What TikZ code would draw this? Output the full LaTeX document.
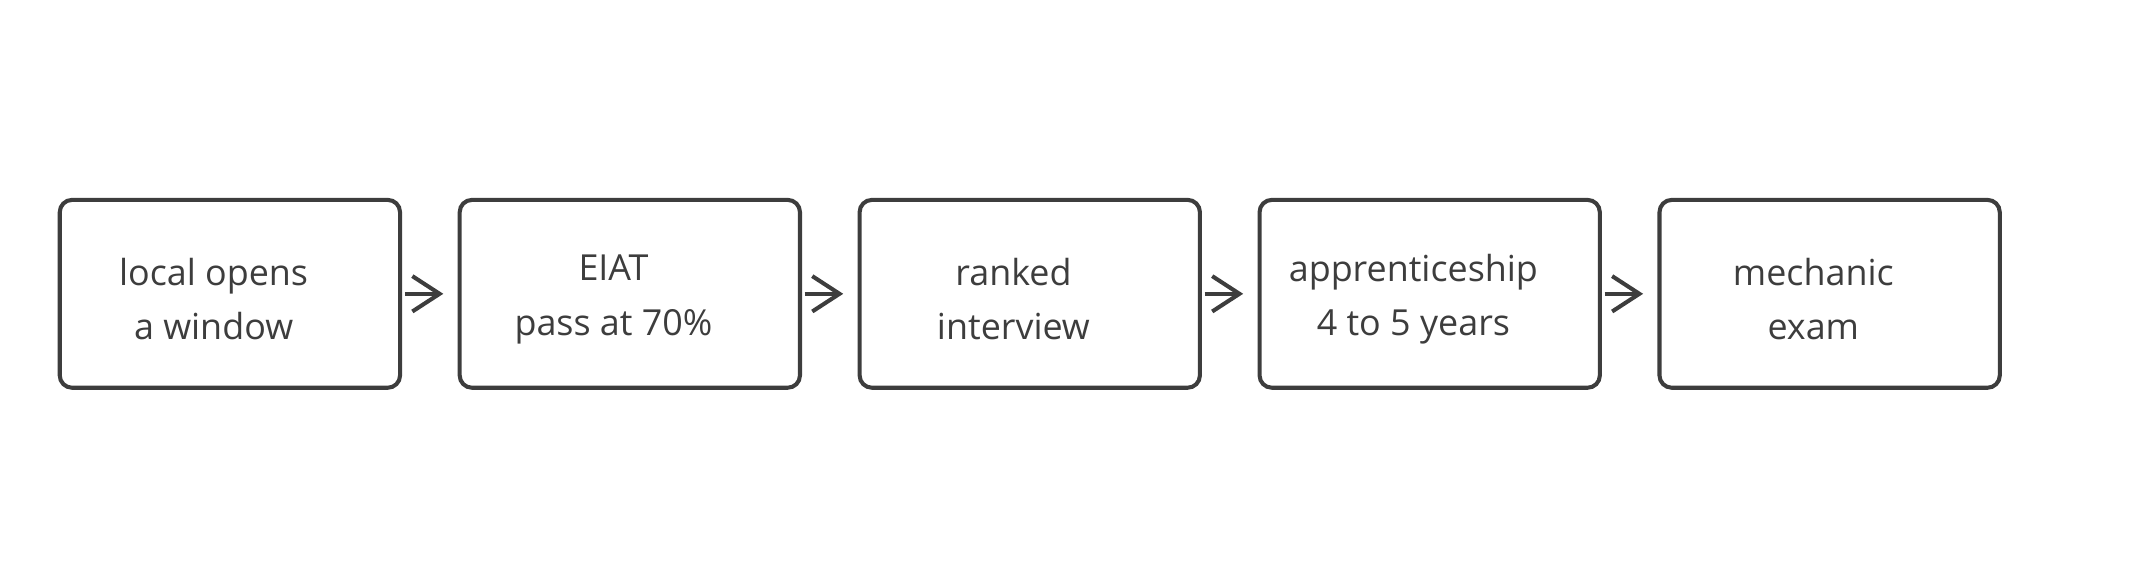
\documentclass[tikz,border=0pt]{standalone}
\usepackage{fontspec}
\setmainfont{Open Sans}
\usetikzlibrary{arrows.meta}
\begin{document}
\begin{tikzpicture}[x=0.01cm,y=-0.01cm,
  box/.style={draw=ink,line width=0.85pt,rounded corners=0.09cm,minimum width=2.5cm,minimum height=1.38cm,inner sep=0pt},
  lbl/.style={font=\fontsize{7.5}{11.4}\selectfont,text=ink,align=center},
  arr/.style={draw=ink,line width=0.85pt,-{Straight Barb[length=0.2cm,width=0.26cm,line width=0.85pt]}}]
\definecolor{ink}{HTML}{3D3D3D}
\useasboundingbox (0,0) rectangle (1568,431.5);
\foreach \i/\x/\a/\b in {1/169/local opens/a window,2/463/EIAT/pass at 70\%,3/757/ranked/interview,4/1051/apprenticeship/4 to 5 years,5/1345/mechanic/exam}{
  \node[box] (b\i) at (\x,216) {};
  \node[lbl] (t\i) at (\x-12,220) {\a\\\b};
}
\foreach \i/\j in {1/2,2/3,3/4,4/5}{\draw[arr] (b\i.east) ++(2,0) -- ([xshift=-3]b\j.west);}
\end{tikzpicture}
\end{document}
